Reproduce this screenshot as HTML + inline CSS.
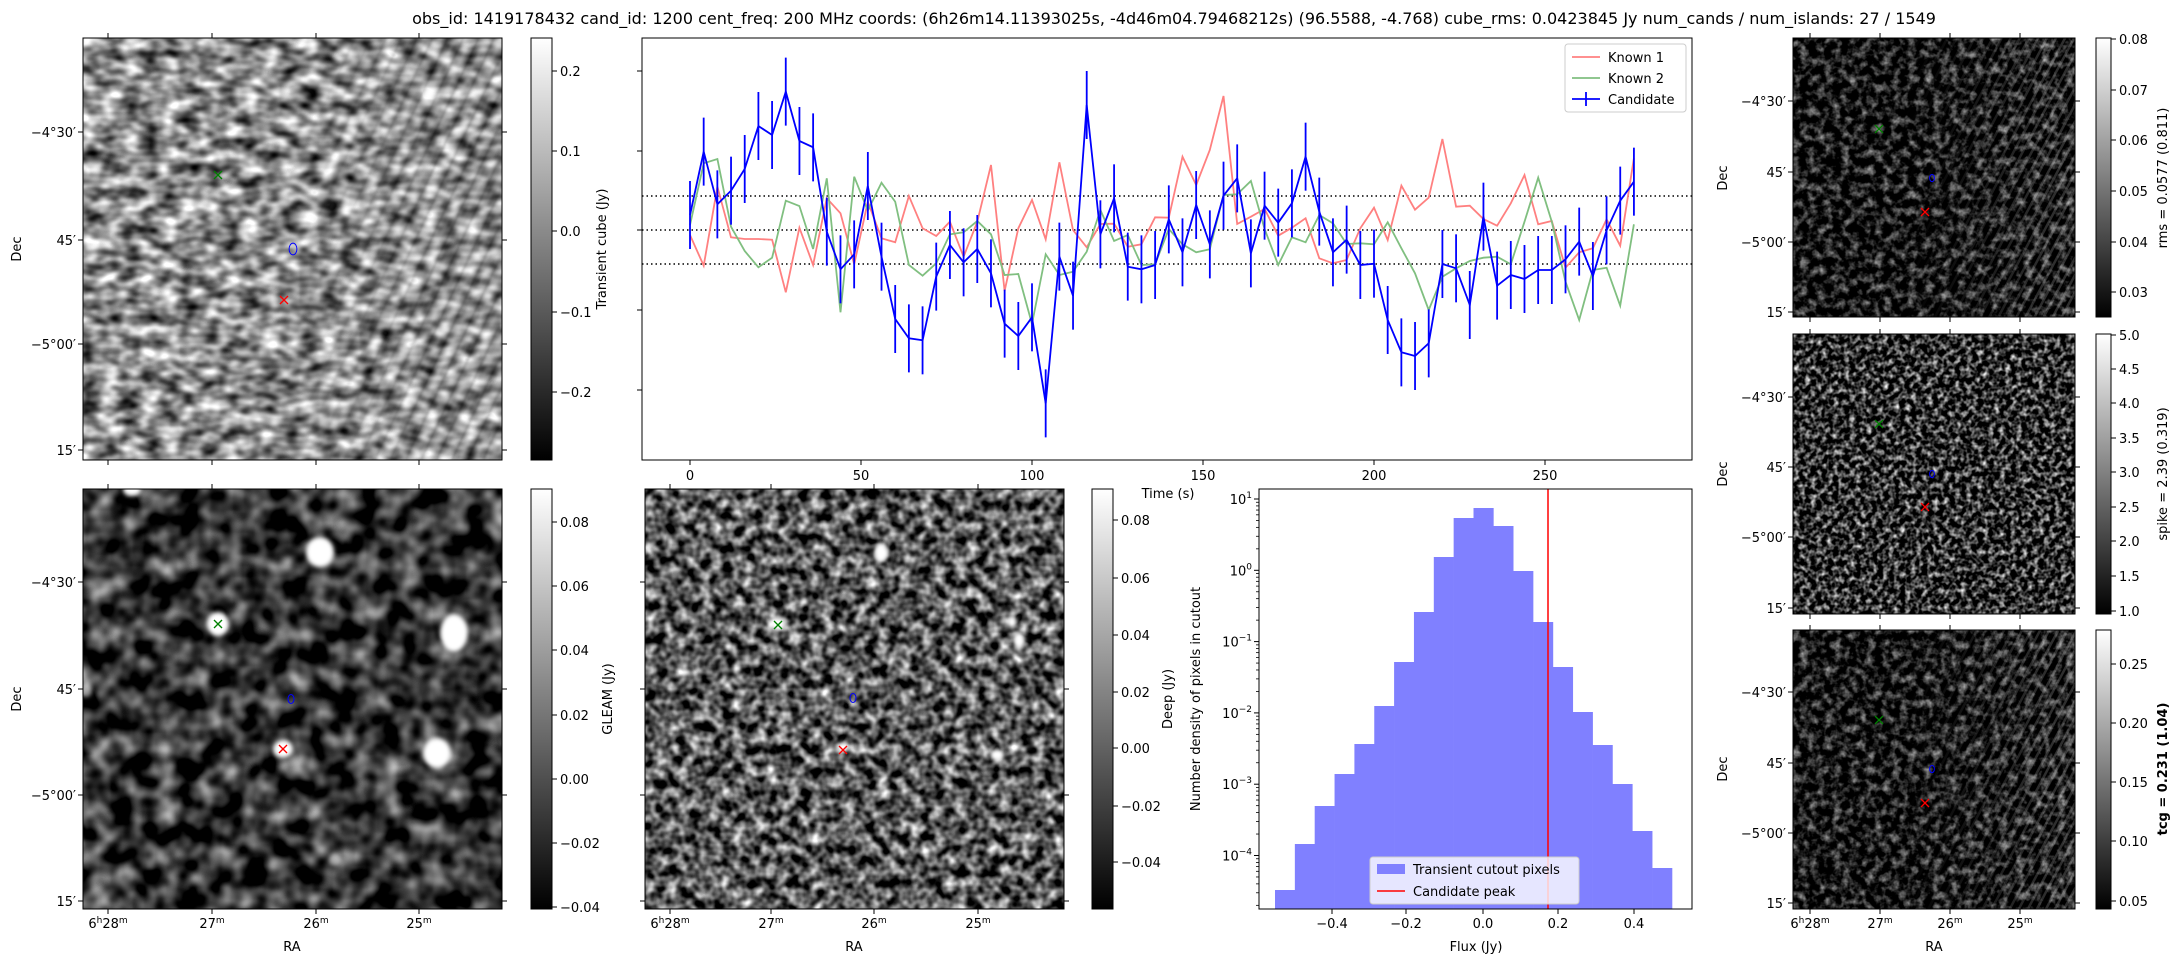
<!DOCTYPE html>
<html><head><meta charset="utf-8">
<style>
body{margin:0;background:#fff;}
svg{display:block;}
text{font-family:"DejaVu Sans","Liberation Sans",sans-serif;font-size:13px;fill:#000;}
</style></head>
<body>
<svg id="s" width="2175" height="960" xmlns="http://www.w3.org/2000/svg">
<defs>
<linearGradient id="cb" x1="0" y1="1" x2="0" y2="0"><stop offset="0" stop-color="#000"/><stop offset="1" stop-color="#fff"/></linearGradient>
<filter id="fTL" x="0" y="0" width="1" height="1" color-interpolation-filters="sRGB"><feTurbulence type="fractalNoise" baseFrequency="0.05 0.08" numOctaves="2" seed="3"/><feColorMatrix type="matrix" values="1.6 0 0 0 -0.25 1.6 0 0 0 -0.25 1.6 0 0 0 -0.25 0 0 0 0 1"/></filter>
<filter id="fBL" x="0" y="0" width="1" height="1" color-interpolation-filters="sRGB"><feTurbulence type="fractalNoise" baseFrequency="0.045" numOctaves="2" seed="11"/><feColorMatrix type="matrix" values="1.4 0 0 0 -0.5 1.4 0 0 0 -0.5 1.4 0 0 0 -0.5 0 0 0 0 1"/></filter>
<filter id="fBM" x="0" y="0" width="1" height="1" color-interpolation-filters="sRGB"><feTurbulence type="fractalNoise" baseFrequency="0.09" numOctaves="2" seed="7"/><feColorMatrix type="matrix" values="1.8 0 0 0 -0.55 1.8 0 0 0 -0.55 1.8 0 0 0 -0.55 0 0 0 0 1"/></filter>
<filter id="fR1" x="0" y="0" width="1" height="1" color-interpolation-filters="sRGB"><feTurbulence type="fractalNoise" baseFrequency="0.12" numOctaves="3" seed="5"/><feColorMatrix type="matrix" values="1.3 0 0 0 -0.56 1.3 0 0 0 -0.56 1.3 0 0 0 -0.56 0 0 0 0 1"/></filter>
<filter id="fR2" x="0" y="0" width="1" height="1" color-interpolation-filters="sRGB"><feTurbulence type="fractalNoise" baseFrequency="0.18" numOctaves="2" seed="9"/><feColorMatrix type="matrix" values="2.0 0 0 0 -0.82 2.0 0 0 0 -0.82 2.0 0 0 0 -0.82 0 0 0 0 1"/></filter>
<filter id="fR3" x="0" y="0" width="1" height="1" color-interpolation-filters="sRGB"><feTurbulence type="fractalNoise" baseFrequency="0.12" numOctaves="3" seed="13"/><feColorMatrix type="matrix" values="1.3 0 0 0 -0.55 1.3 0 0 0 -0.55 1.3 0 0 0 -0.55 0 0 0 0 1"/></filter>
<filter id="blur3"><feGaussianBlur stdDeviation="2"/></filter>
<pattern id="stripes" width="14" height="14" patternUnits="userSpaceOnUse" patternTransform="rotate(25)"><rect x="0" width="4" height="14" fill="#000"/><rect x="7" width="4" height="14" fill="#fff"/></pattern>
<pattern id="stripes2" width="8" height="8" patternUnits="userSpaceOnUse" patternTransform="rotate(28)"><rect x="0" width="2.5" height="8" fill="#fff"/></pattern>
<linearGradient id="mg" x1="0" y1="0" x2="1" y2="0"><stop offset="0.45" stop-color="#fff" stop-opacity="0"/><stop offset="0.85" stop-color="#fff" stop-opacity="1"/></linearGradient>
<mask id="mTL" maskContentUnits="objectBoundingBox"><rect width="1" height="1" fill="url(#mg)"/></mask>
<linearGradient id="mg2" x1="0" y1="0" x2="1" y2="0"><stop offset="0.4" stop-color="#fff" stop-opacity="0"/><stop offset="0.9" stop-color="#fff" stop-opacity="0.6"/></linearGradient>
<mask id="mR" maskContentUnits="objectBoundingBox"><rect width="1" height="1" fill="url(#mg2)"/></mask>
<clipPath id="cTL"><rect x="83" y="38" width="419" height="422"/></clipPath>
<clipPath id="cR1"><rect x="1793" y="38" width="282" height="279"/></clipPath>
<clipPath id="cR3"><rect x="1793" y="630" width="282" height="279"/></clipPath>
<clipPath id="cBL"><rect x="83" y="489" width="419" height="420"/></clipPath>
<clipPath id="cBM"><rect x="645" y="489" width="419" height="420"/></clipPath>
</defs>

<text x="1174" y="24" text-anchor="middle" style="font-size:16px">obs_id: 1419178432 cand_id: 1200 cent_freq: 200 MHz coords: (6h26m14.11393025s, -4d46m04.79468212s) (96.5588, -4.768) cube_rms: 0.0423845 Jy num_cands / num_islands: 27 / 1549</text>

<rect x="83" y="38" width="419" height="422" filter="url(#fTL)"/>
<g clip-path="url(#cTL)" mask="url(#mTL)" opacity="0.35"><rect x="83" y="38" width="419" height="422" fill="url(#stripes)" filter="url(#blur3)"/></g>

<rect x="83" y="489" width="419" height="420" filter="url(#fBL)"/>
<g clip-path="url(#cBL)" fill="#fff" filter="url(#blur3)">
<ellipse cx="320" cy="552" rx="14" ry="15"/><ellipse cx="218" cy="624" rx="11" ry="12"/><ellipse cx="454" cy="633" rx="14" ry="19"/><ellipse cx="437" cy="753" rx="14" ry="15"/><ellipse cx="283" cy="749" rx="10" ry="9"/><ellipse cx="132" cy="490" rx="9" ry="6"/>
<ellipse cx="86" cy="690" rx="6" ry="7" opacity="0.6"/><ellipse cx="77" cy="843" rx="6" ry="7" opacity="0.6"/><ellipse cx="335" cy="860" rx="6" ry="6" opacity="0.5"/>
</g>

<rect x="645" y="489" width="419" height="420" filter="url(#fBM)"/>
<g clip-path="url(#cBM)" fill="#fff" filter="url(#blur3)">
<ellipse cx="881" cy="553" rx="7" ry="9"/><ellipse cx="778" cy="624" rx="8" ry="7"/><ellipse cx="1012" cy="622" rx="5" ry="6"/><ellipse cx="1019" cy="640" rx="6" ry="8"/><ellipse cx="997" cy="755" rx="7" ry="6"/><ellipse cx="843" cy="747" rx="6" ry="5"/>
</g>

<rect x="1793" y="38" width="282" height="279" filter="url(#fR1)"/>
<g clip-path="url(#cR1)" mask="url(#mR)"><rect x="1793" y="38" width="282" height="279" fill="url(#stripes2)" opacity="0.3"/></g>
<rect x="1793" y="334" width="282" height="280" filter="url(#fR2)"/>
<rect x="1793" y="630" width="282" height="279" filter="url(#fR3)"/>
<g clip-path="url(#cR3)" mask="url(#mR)"><rect x="1793" y="630" width="282" height="279" fill="url(#stripes2)" opacity="0.3"/></g>

<rect x="531" y="38" width="21" height="422" fill="url(#cb)" stroke="#000" stroke-width="1"/>
<rect x="531" y="489" width="21" height="420" fill="url(#cb)" stroke="#000" stroke-width="1"/>
<rect x="1092" y="489" width="21" height="420" fill="url(#cb)" stroke="#000" stroke-width="1"/>
<rect x="2096" y="38" width="15" height="279" fill="url(#cb)" stroke="#000" stroke-width="1"/>
<rect x="2096" y="334" width="15" height="280" fill="url(#cb)" stroke="#000" stroke-width="1"/>
<rect x="2096" y="630" width="15" height="279" fill="url(#cb)" stroke="#000" stroke-width="1"/>

<g id="dyn"></g>

<text transform="translate(606,249) rotate(-90)" text-anchor="middle">Transient cube (Jy)</text>
<text transform="translate(612,699) rotate(-90)" text-anchor="middle">GLEAM (Jy)</text>
<text transform="translate(1172,699) rotate(-90)" text-anchor="middle">Deep (Jy)</text>
<text transform="translate(1200,699) rotate(-90)" text-anchor="middle">Number density of pixels in cutout</text>
<text transform="translate(2167,178) rotate(-90)" text-anchor="middle">rms = 0.0577 (0.811)</text>
<text transform="translate(2167,474) rotate(-90)" text-anchor="middle">spike = 2.39 (0.319)</text>
<text transform="translate(2167,769) rotate(-90)" text-anchor="middle" font-weight="bold">tcg = 0.231 (1.04)</text>
<text transform="translate(21,249) rotate(-90)" text-anchor="middle">Dec</text>
<text transform="translate(21,699) rotate(-90)" text-anchor="middle">Dec</text>
<text transform="translate(1727,178) rotate(-90)" text-anchor="middle">Dec</text>
<text transform="translate(1727,474) rotate(-90)" text-anchor="middle">Dec</text>
<text transform="translate(1727,769) rotate(-90)" text-anchor="middle">Dec</text>
<text x="292" y="951" text-anchor="middle">RA</text>
<text x="854" y="951" text-anchor="middle">RA</text>
<text x="1934" y="951" text-anchor="middle">RA</text>
<text x="1476" y="951" text-anchor="middle">Flux (Jy)</text>
<text x="1168" y="498" text-anchor="middle">Time (s)</text>

<rect x="1565" y="44" width="121" height="68" rx="3" fill="#fff" fill-opacity="0.8" stroke="#ccc"/>
<line x1="1572" y1="57" x2="1600" y2="57" stroke="#ff8080" stroke-width="1.8"/><text x="1608" y="62">Known 1</text>
<line x1="1572" y1="78" x2="1600" y2="78" stroke="#80bf80" stroke-width="1.8"/><text x="1608" y="83">Known 2</text>
<line x1="1572" y1="99" x2="1600" y2="99" stroke="#00f" stroke-width="1.8"/><line x1="1586" y1="92" x2="1586" y2="106" stroke="#00f" stroke-width="1.8"/><text x="1608" y="104">Candidate</text>

<rect x="1370" y="857" width="209" height="47" rx="3" fill="#fff" fill-opacity="0.8" stroke="#ccc"/>
<rect x="1377" y="864" width="28" height="10" fill="#8080ff"/><text x="1413" y="874">Transient cutout pixels</text>
<line x1="1377" y1="891" x2="1405" y2="891" stroke="#f00" stroke-width="1.5"/><text x="1413" y="896">Candidate peak</text>
</svg>
<script>
var NS="http://www.w3.org/2000/svg",G=document.getElementById('dyn');
function el(t,a,txt){var e=document.createElementNS(NS,t);for(var k in a)e.setAttribute(k,a[k]);if(txt!==undefined)e.innerHTML=txt;G.appendChild(e);return e;}
function ln(x1,y1,x2,y2,c,w,extra){var a={x1:x1,y1:y1,x2:x2,y2:y2,stroke:c||'#000','stroke-width':w||1};for(var k in extra)a[k]=extra[k];return el('line',a);}
function tx(x,y,s,anc){return el('text',{x:x,y:y,'text-anchor':anc||'start'},s);}
function frame(x,y,w,h){el('rect',{x:x,y:y,width:w,height:h,fill:'none',stroke:'#000','stroke-width':1});}
var red=[600,692,455,607,612,612,614,772,578,690,490,535,688,500,610,622,483,580,603,560,665,560,390,768,580,495,613,382,585,637,567,566,635,628,547,548,365,450,345,183,567,545,522,602,578,550,670,685,675,580,518,615,452,524,488,312,515,512,552,572,505,420,568,558,698,652,640,553,632,370];
var grn=[570,385,372,575,648,697,668,497,513,642,430,832,425,527,443,500,690,722,685,598,592,558,598,720,717,867,658,720,710,650,525,618,600,690,688,582,628,652,643,480,478,438,582,690,607,622,540,565,627,625,628,562,640,715,825,725,700,678,668,665,688,560,428,560,740,855,705,698,812,568];
var blu=[540,350,508,467,402,273,300,170,318,337,590,703,658,453,665,852,910,916,725,630,682,642,715,866,903,847,1105,665,782,210,598,490,695,703,690,553,652,510,628,482,430,655,512,563,505,365,530,652,614,690,686,855,952,963,925,687,700,810,545,752,720,732,705,705,673,620,723,586,497,440];
function X(i){return 690+i*4*3.42;}function Y(z){return 35+z/3;}
function poly(arr,c,w){var p=arr.map(function(z,i){return X(i).toFixed(1)+','+Y(z).toFixed(1)}).join(' ');el('polyline',{points:p,fill:'none',stroke:c,'stroke-width':w});}
[196,230,264].forEach(function(y){ln(642,y,1692,y,'#000',1.5,{'stroke-dasharray':'1.5,3'});});
poly(red,'#ff8080',1.8);poly(grn,'#80bf80',1.8);
blu.forEach(function(z,i){ln(X(i),Y(z)-34,X(i),Y(z)+34,'#00f',1.8);});
poly(blu,'#0000ff',1.8);
frame(642,38,1050,422);
[0,50,100,150,200,250].forEach(function(v){var x=690+v*3.42;ln(x,460,x,465);tx(x,480,v,'middle');});
[71,151,230,310,390].forEach(function(y){ln(637,y,642,y);});
function cbt(x,list){list.forEach(function(p){ln(x,p[1],x+5,p[1]);tx(x+8,p[1]+5,p[0]);});}
cbt(552,[['0.2',71],['0.1',151],['0.0',231],['\u22120.1',312],['\u22120.2',392]]);
cbt(552,[['0.08',522],['0.06',586],['0.04',650],['0.02',715],['0.00',779],['\u22120.02',843],['\u22120.04',907]]);
cbt(1113,[['0.08',520],['0.06',578],['0.04',635],['0.02',692],['0.00',748],['\u22120.02',806],['\u22120.04',862]]);
cbt(2111,[['0.08',39],['0.07',90],['0.06',140],['0.05',191],['0.04',242],['0.03',292]]);
cbt(2111,[['5.0',335],['4.5',369],['4.0',403],['3.5',438],['3.0',472],['2.5',507],['2.0',541],['1.5',576],['1.0',611]]);
cbt(2111,[['0.25',664],['0.20',723],['0.15',782],['0.10',841],['0.05',901]]);
function imgax(x,y,w,h,decs,ras,decLab,raLab){
 frame(x,y,w,h);
 decs.forEach(function(d,i){ln(x-5,d,x,d);ln(x+w,d,x+w+5,d);if(decLab)tx(x-7,d+5,decLab[i],'end');});
 ras.forEach(function(r,i){ln(r,y+h,r,y+h+5);ln(r,y-5,r,y);if(raLab)tx(r,y+h+19,raLab[i],'middle');});
}
var decL=['\u22124\u00b030\u2032','45\u2032','\u22125\u00b000\u2032','15\u2032'];
var raL=['6<tspan dy="-5" font-size="9">h</tspan><tspan dy="5">28</tspan><tspan dy="-5" font-size="9">m</tspan>','27<tspan dy="-5" font-size="9">m</tspan>','26<tspan dy="-5" font-size="9">m</tspan>','25<tspan dy="-5" font-size="9">m</tspan>'];
imgax(83,38,419,422,[132,240,344,450],[108,212,316,419],decL,null);
imgax(83,489,419,420,[582,689,795,901],[108,212,316,419],decL,raL);
imgax(645,489,419,420,[582,689,795,901],[670,771,874,978],null,raL);
imgax(1793,38,282,279,[101,172,242,312],[1810,1880,1950,2020],decL,null);
imgax(1793,334,282,280,[397,467,537,608],[1810,1880,1950,2020],decL,null);
imgax(1793,630,282,279,[692,763,833,903],[1810,1880,1950,2020],decL,raL);
function mk(x,y,c){ln(x-4,y-4,x+4,y+4,c,1.3);ln(x-4,y+4,x+4,y-4,c,1.3);}
function ci(x,y,s){el('ellipse',{cx:x,cy:y,rx:3*s,ry:4.5*s,fill:'none',stroke:'#00f','stroke-width':1});}
[[218,175,293,249,284,300,1.3],[218,624,291,699,283,749,1],[778,625,853,698,843,750,1],[1879,129,1932,178,1925,212,0.8],[1879,424,1932,474,1925,507,0.8],[1879,720,1932,769,1925,803,0.8]].forEach(function(m){mk(m[0],m[1],'#008000');ci(m[2],m[3],m[6]);mk(m[4],m[5],'#f00');});
var tops=[890,844,806,774,744,706,662,612,557,518,508,526,571,622,667,712,745,784,831,868];
var bw=(1672-1275)/20;
tops.forEach(function(t,i){el('rect',{x:(1275+i*bw).toFixed(2),y:t,width:(bw+0.3).toFixed(2),height:909-t,fill:'#8080ff'});});
ln(1548,489,1548,909,'#f00',1.5);
frame(1259,489,433,420);
[['\u22120.4',1332],['\u22120.2',1406],['0.0',1483],['0.2',1558],['0.4',1634]].forEach(function(p){ln(p[1],909,p[1],914);tx(p[1],928,p[0],'middle');});
[1,0,-1,-2,-3,-4].forEach(function(e,i){var y=499+i*71.3;ln(1254,y,1259,y);
 var t=el('text',{x:1252,y:y+5,'text-anchor':'end'});t.innerHTML='10<tspan dy="-6" font-size="9">'+(e<0?'\u2212'+(-e):e)+'</tspan>';
 for(var k=2;k<10;k++){var yy=y+71.3-71.3*Math.log10(k);if(yy<909&&yy>489)ln(1256,yy,1259,yy,'#000',0.8);}
});
</script>
</body></html>
